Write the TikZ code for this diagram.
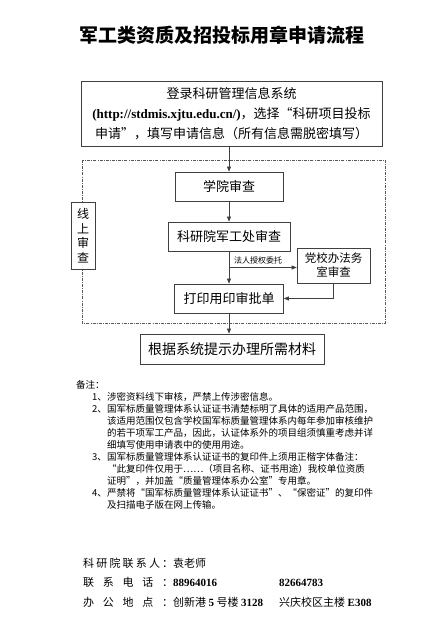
\documentclass[tikz,border=0pt]{standalone}
\usepackage{fontspec}
\setmainfont{Noto Sans CJK SC}
\newfontfamily\tnr{Liberation Serif}
\usetikzlibrary{arrows.meta, positioning, calc}

\begin{document}
\begin{tikzpicture}[
  x=1pt, y=1pt,
  every node/.style={font=\fontsize{13}{16}\selectfont},
  stepbox/.style={rectangle, draw=black!75, line width=0.7pt, fill=white, inner sep=0pt},
  rel/.style={line width=0.7pt, draw=black!75, -{Triangle[length=5pt, width=4pt]}},
  frame/.style={draw=black!65, line width=0.6pt, dash pattern=on 3pt off 1.2pt on 0.8pt off 1.2pt},
]
  \useasboundingbox (0,0) rectangle (441,621);

  % Titre
  \node (title) at (221.5,586) {\fontsize{19}{22}\selectfont\bfseries 军工类资质及招投标用章申请流程};

  % Cadre en pointilles
  \draw[frame] (82,461) rectangle (385,298);

  % Etapes
  \node[stepbox, minimum width=301pt, minimum height=65pt, align=center,
        font=\fontsize{13}{20}\selectfont] (login) at (231.5,507.5) {
    登录科研管理信息系统 \\
    {\tnr\bfseries (http://stdmis.xjtu.edu.cn/)}，选择“科研项目投标 \\
    申请”，填写申请信息（所有信息需脱密填写）
  };
  \node[stepbox, minimum width=108pt, minimum height=29pt] (college) at (229,434.5) {学院审查};
  \node[stepbox, minimum width=122pt, minimum height=29pt] (military) at (229,384.5) {科研院军工处审查};
  \node[stepbox, minimum width=73pt, minimum height=35pt, align=center,
        font=\fontsize{11.5}{14}\selectfont] (legal) at (333.5,355.5) {党校办法务\\室审查};
  \node[stepbox, minimum width=109pt, minimum height=29pt] (printform) at (229,322.5) {打印用印审批单};
  \node[stepbox, minimum width=184pt, minimum height=30pt,
        font=\fontsize{14}{16}\selectfont] (material) at (232,272) {根据系统提示办理所需材料};
  \node[stepbox, minimum width=24pt, minimum height=67pt, align=center,
        font=\fontsize{12}{14.5}\selectfont] (online) at (83,385.5) {线\\上\\审\\查};

  % Relations
  \coordinate (split) at ($(military.south)!0.5!(printform.north)$);
  \draw[rel] (college.north |- login.south) -- (college.north);
  \draw[rel] (college.south) -- (military.north);
  \draw[rel] (military.south) -- (printform.north);
  \draw[rel] (split) -- node[above, pos=0.43, font=\fontsize{8}{10}\selectfont]{法人授权委托} (split -| legal.west);
  \draw[rel] (legal.south) |- (printform.east);
  \draw[rel] (printform.south) -- (printform.south |- material.north);

  % Notes
  \node[anchor=north west, inner sep=0pt, font=\fontsize{9.5}{12}\selectfont] (notes) at (76,241) {
    \begin{tabular}{@{\hspace{16pt}}p{15pt}@{}l@{}}
      \multicolumn{2}{@{}l@{}}{备注：} \\
      1、 & 涉密资料线下审核，严禁上传涉密信息。 \\
      2、 & 国军标质量管理体系认证证书清楚标明了具体的适用产品范围， \\
          & 该适用范围仅包含学校国军标质量管理体系内每年参加审核维护 \\
          & 的若干项军工产品，因此，认证体系外的项目组须慎重考虑并详 \\
          & 细填写使用申请表中的使用用途。 \\
      3、 & 国军标质量管理体系认证证书的复印件上须用正楷字体备注： \\
          & “此复印件仅用于……（项目名称、证书用途）我校单位资质 \\
          & 证明”，并加盖“质量管理体系办公室”专用章。 \\
      4、 & 严禁将“国军标质量管理体系认证证书”、“保密证”的复印件 \\
          & 及扫描电子版在网上传输。 \\
    \end{tabular}
  };

  % Contact
  \node[anchor=north west, inner sep=0pt, font=\fontsize{11}{19.5}\selectfont] (contact) at (83,67.6) {
    \begin{tabular}{@{}p{90pt}@{}p{106pt}@{}l@{}}
      \makebox[90pt][s]{科\hfill 研\hfill 院\hfill 联\hfill 系\hfill 人\hfill ：} & 袁老师 & \\
      \makebox[90pt][s]{联\hfill 系\hfill 电\hfill 话\hfill ：} & {\tnr\bfseries 88964016} & {\tnr\bfseries 82664783} \\
      \makebox[90pt][s]{办\hfill 公\hfill 地\hfill 点\hfill ：} & 创新港 {\tnr\bfseries 5} 号楼 {\tnr\bfseries 3128} & 兴庆校区主楼 {\tnr\bfseries E308} \\
    \end{tabular}
  };
\end{tikzpicture}
\end{document}
